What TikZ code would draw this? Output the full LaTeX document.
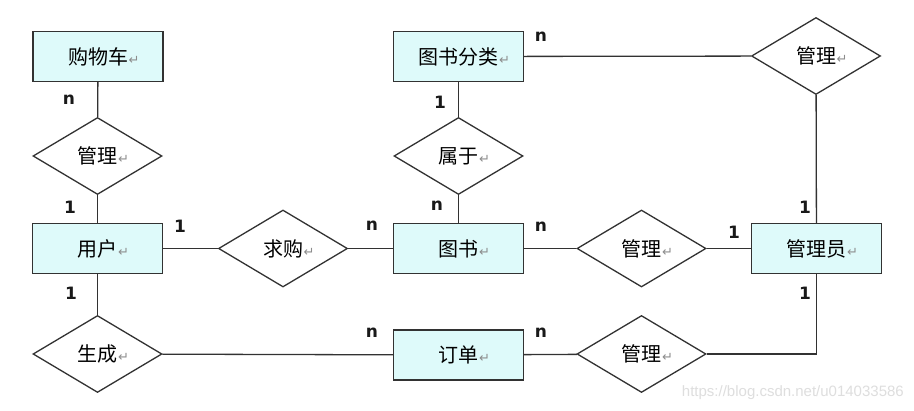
\documentclass[tikz,border=0pt]{standalone}
\usepackage{fontspec}
\usetikzlibrary{shapes.geometric}
\newfontfamily\cjk{Noto Sans CJK SC}
\newfontfamily\dvs{DejaVu Sans}
\newfontfamily\wmfont{Liberation Sans}
\definecolor{boxfill}{RGB}{222,250,250}
\definecolor{linec}{RGB}{50,50,50}
\definecolor{retc}{RGB}{140,140,140}
\definecolor{wmc}{RGB}{222,222,222}
\newcommand{\rt}[1]{#1\rlap{\hspace{0.5pt}\dvs\fontsize{13}{14}\selectfont\color{retc}↵}}
\tikzset{
  entity/.style={draw=linec, line width=1.3pt, fill=boxfill, minimum width=130pt, minimum height=50pt, inner sep=0pt, font=\cjk\fontsize{20}{22}\selectfont},
  relation/.style={diamond, draw=linec, line width=1.3pt, fill=white, minimum width=129pt, minimum height=77pt, inner sep=0pt, font=\cjk\fontsize{20}{22}\selectfont},
  conn/.style={draw=linec, line width=1.3pt},
  card/.style={font=\dvs\bfseries\fontsize{17}{18}\selectfont, text=black!90, inner sep=0pt}
}
\begin{document}
\begin{tikzpicture}[x=1pt,y=-1pt]
\useasboundingbox (0,0) rectangle (914,411);
\fill[white] (0,0) rectangle (914,411);
% entities
\node[entity] (cart) at (98,56.5) {\rt{购物车}};
\node[entity] (user) at (97.5,248.5) {\rt{用户}};
\node[entity] (cat) at (458.5,56.5) {\rt{图书分类}};
\node[entity] (book) at (458.5,248.5) {\rt{图书}};
\node[entity] (admin) at (816.5,248.5) {\rt{管理员}};
\node[entity] (order) at (458.5,355) {\rt{订单}};
% relations
\node[relation] (r1) at (97.5,156) {\rt{管理}};
\node[relation] (r2) at (283,248.5) {\rt{求购}};
\node[relation] (r3) at (97.5,354) {\rt{生成}};
\node[relation] (r4) at (458.5,156) {\rt{属于}};
\node[relation] (r5) at (816,56) {\rt{管理}};
\node[relation] (r6) at (641.5,248.5) {\rt{管理}};
\node[relation] (r7) at (641.5,354) {\rt{管理}};
% connectors
\draw[conn] (cart) -- (r1);
\draw[conn] (r1) -- (user);
\draw[conn] (user) -- (r2);
\draw[conn] (r2) -- (book);
\draw[conn] (user) -- (r3);
\draw[conn] (r3) -- (order);
\draw[conn] (cat) -- (r4);
\draw[conn] (r4) -- (book);
\draw[conn] (cat) -- (r5);
\draw[conn] (r5) -- (admin);
\draw[conn] (book) -- (r6);
\draw[conn] (r6) -- (admin);
\draw[conn] (order) -- (r7);
\draw[conn] (r7.east) -| (admin.south);
% cardinalities
\node[card] (c1) at (69,100) {n};
\node[card] (c2) at (70,207) {1};
\node[card] (c3) at (180,226) {1};
\node[card] (c4) at (71,293) {1};
\node[card] (c5) at (372,226) {n};
\node[card] (c6) at (372,333) {n};
\node[card] (c7) at (541,37) {n};
\node[card] (c8) at (440,102) {1};
\node[card] (c9) at (437,206) {n};
\node[card] (c10) at (541,227) {n};
\node[card] (c11) at (734,232) {1};
\node[card] (c12) at (805,207) {1};
\node[card] (c13) at (805,293) {1};
\node[card] (c14) at (541,333) {n};
% watermark
\node[font=\wmfont\fontsize{15}{16}\selectfont, text=wmc, anchor=east, inner sep=0pt] (wm) at (904,393) {https://blog.csdn.net/u014033586};
\end{tikzpicture}
\end{document}
